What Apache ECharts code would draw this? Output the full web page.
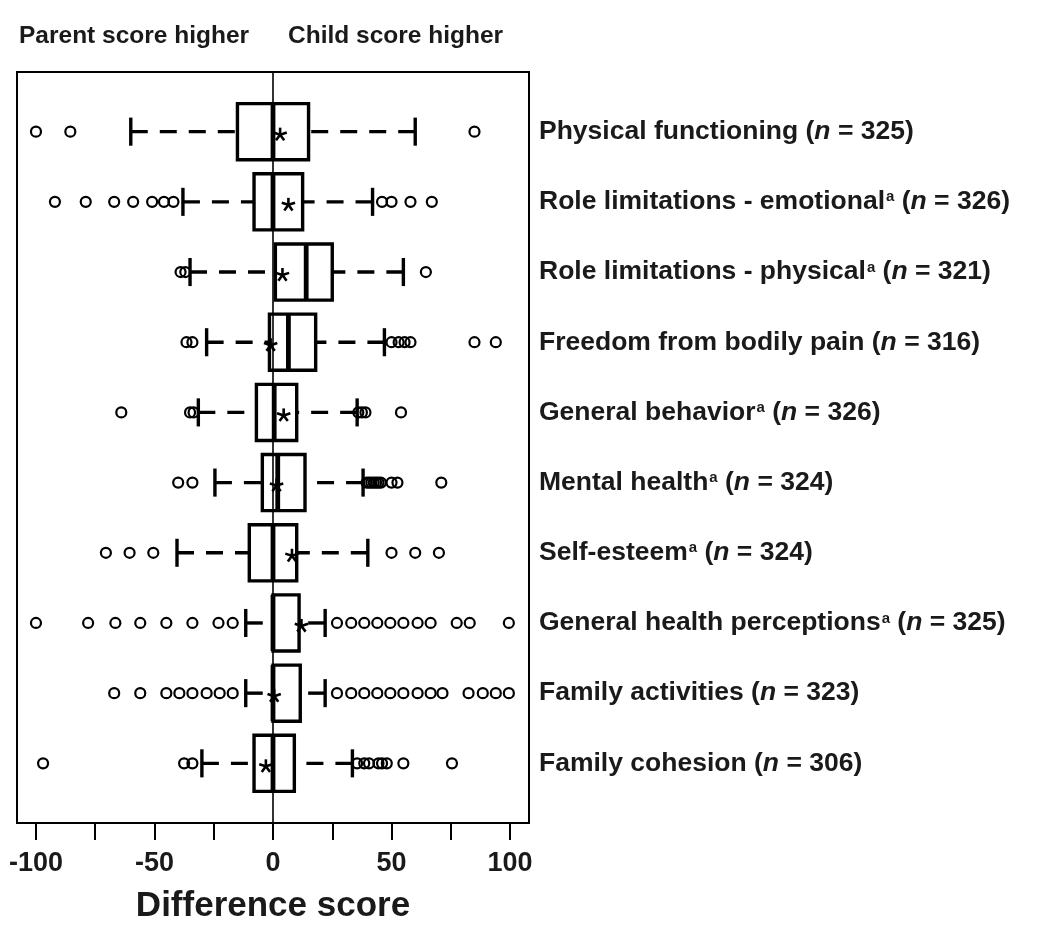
<!DOCTYPE html>
<html>
<head>
<meta charset="utf-8">
<script src="https://cdn.jsdelivr.net/npm/echarts@6/dist/echarts.min.js"></script>
<style>
html,body{margin:0;padding:0;background:#fff;}
#chart{width:1050px;height:929px;}
</style>
</head>
<body>
<div id="chart"></div>
<script>
// ---------- data ----------
const categories = ['Physical functioning','Role limitations - emotional','Role limitations - physical','Freedom from bodily pain','General behavior','Mental health','Self-esteem','General health perceptions','Family activities','Family cohesion'];
const sampleSizes = [325, 326, 321, 316, 326, 324, 324, 325, 323, 306];
const hasFootnoteA = [false, true, true, false, true, true, true, true, false, false];
const rowPositions = [1, 2, 3, 4, 5, 6, 7, 8, 9, 10];
const whiskerLow  = [-60, -38, -35, -28, -31.5, -24.5, -40.5, -11.5, -11.5, -30];
const quartile1   = [-15, -8, 1, -1.5, -7, -4.5, -10, 0, 0, -8];
const medians     = [0, 0, 14, 6.5, 0.5, 2, 0, 0, 0, 0];
const quartile3   = [15, 12.5, 25, 18, 10, 13.5, 10, 11, 11.5, 9];
const whiskerHigh = [60, 42, 55, 47, 35.5, 38, 40, 22, 22, 33.5];
const means       = [3, 6.5, 4, -1, 4.5, 1.5, 8, 12, 0.5, -3];
const outliers = [
  [-100, -85.5, 85],
  [-92, -79, -67, -59, -51, -46, -42, 46, 50, 58, 67],
  [-39, -37, 64.5],
  [-36.5, -34, 50, 53, 55.5, 58, 85, 94],
  [-64, -35, -33.5, 36, 37.5, 39, 54],
  [-40, -34, 39.5, 40.5, 41.5, 42.5, 43.5, 44.5, 45.5, 50, 52.5, 71],
  [-70.5, -60.5, -50.5, 50, 60, 70],
  [-100, -78, -66.5, -56, -45, -34, -23, -17, 27, 33, 38.5, 44, 49.5, 55, 61, 66.5, 77.5, 83, 99.5],
  [-67, -56, -45, -39.5, -34, -28, -22.5, -17, 27, 33, 38.5, 44, 49.5, 55, 61, 66.5, 71.5, 82.5, 88.5, 94, 99.5],
  [-97, -37.5, -34, 35.5, 38.5, 40.5, 44.5, 46, 48, 55, 75.5]
];
const xTickValues = [-100, -75, -50, -25, 0, 25, 50, 75, 100];
const xLabelValues = [-100, -50, 0, 50, 100];
const headerLeft = 'Parent score higher';
const headerRight = 'Child score higher';
const xAxisTitle = 'Difference score';

// ---------- build ----------
const boxData = rowPositions.map((r, i) => [r, whiskerLow[i], quartile1[i], medians[i], quartile3[i], whiskerHigh[i], means[i]]);
const outlierData = [];
outliers.forEach((arr, i) => arr.forEach(v => outlierData.push([v, rowPositions[i]])));

function labelFor(v) {
  const i = Math.round(v) - 1;
  if (i < 0 || i >= categories.length) return '';
  return '{b|' + categories[i] + '}' + (hasFootnoteA[i] ? '{sup|a}' : '') +
         '{b| (}{i|n}{b| = ' + sampleSizes[i] + ')}';
}

function renderItem(params, api) {
  const row = api.value(0);
  const pLo = api.coord([api.value(1), row]);
  const pQ1 = api.coord([api.value(2), row]);
  const pMd = api.coord([api.value(3), row]);
  const pQ3 = api.coord([api.value(4), row]);
  const pHi = api.coord([api.value(5), row]);
  const pMn = api.coord([api.value(6), row]);
  const boxH = Math.abs(api.size([0, 0.8])[1]);
  const stapleH = Math.abs(api.size([0, 0.4])[1]);
  const y = pMd[1];
  const black = '#000';
  const children = [
    {type: 'line', shape: {x1: pLo[0], y1: y, x2: pQ1[0], y2: y}, style: {stroke: black, lineWidth: 3.4, lineDash: [17, 12]}},
    {type: 'line', shape: {x1: pHi[0], y1: y, x2: pQ3[0], y2: y}, style: {stroke: black, lineWidth: 3.4, lineDash: [17, 12]}},
    {type: 'line', shape: {x1: pLo[0], y1: y - stapleH / 2, x2: pLo[0], y2: y + stapleH / 2}, style: {stroke: black, lineWidth: 3.4}},
    {type: 'line', shape: {x1: pHi[0], y1: y - stapleH / 2, x2: pHi[0], y2: y + stapleH / 2}, style: {stroke: black, lineWidth: 3.4}},
    {type: 'rect', shape: {x: pQ1[0], y: y - boxH / 2, width: pQ3[0] - pQ1[0], height: boxH}, style: {fill: 'none', stroke: black, lineWidth: 3.4}},
    {type: 'line', shape: {x1: pMd[0], y1: y - boxH / 2, x2: pMd[0], y2: y + boxH / 2}, style: {stroke: black, lineWidth: 4.8}}
  ];
  // mean marker: five-armed asterisk
  const cx = pMn[0], cy = pMn[1] + 3, arm = 7;
  [-90, -18, 54, 126, 198].forEach(a => {
    const rad = a * Math.PI / 180;
    children.push({type: 'line', shape: {x1: cx, y1: cy, x2: cx + arm * Math.cos(rad), y2: cy + arm * Math.sin(rad)},
      style: {stroke: black, lineWidth: 2.6}});
  });
  return {type: 'group', children: children};
}

const chart = echarts.init(document.getElementById('chart'), null, {renderer: 'canvas'});
const FONT = 'Liberation Sans, Arial, Helvetica, sans-serif';
chart.setOption({
  animation: false,
  backgroundColor: '#fff',
  textStyle: {fontFamily: FONT, color: '#000'},
  title: [
    {text: headerLeft, left: 14, top: 19, textStyle: {fontFamily: FONT, fontSize: 24.5, fontWeight: 'bold', color: '#1a1a1a'}},
    {text: headerRight, left: 283, top: 19, textStyle: {fontFamily: FONT, fontSize: 24.5, fontWeight: 'bold', color: '#1a1a1a'}}
  ],
  grid: {left: 17, right: 521, top: 72, bottom: 103, show: true, borderColor: '#000', borderWidth: 2, backgroundColor: 'transparent'},
  xAxis: {
    type: 'value', min: -108, max: 108,
    axisLine: {show: false},
    splitLine: {show: false},
    axisTick: {show: true, customValues: xTickValues, length: 17, inside: false, lineStyle: {color: '#000', width: 2}},
    axisLabel: {show: true, customValues: xLabelValues, margin: 27, fontSize: 27, fontWeight: 'bold', color: '#1a1a1a', fontFamily: FONT},
    name: xAxisTitle, nameLocation: 'middle', nameGap: 66,
    nameTextStyle: {fontSize: 35, fontWeight: 'bold', color: '#1a1a1a', fontFamily: FONT}
  },
  yAxis: {
    type: 'value', min: 0.15, max: 10.85, inverse: true, position: 'right',
    axisLine: {show: false}, axisTick: {show: false}, splitLine: {show: false},
    axisLabel: {
      show: true, customValues: rowPositions, margin: 10, align: 'left',
      formatter: labelFor,
      rich: {
        b: {fontSize: 26.5, fontWeight: 'bold', color: '#1a1a1a', fontFamily: FONT, lineHeight: 30},
        i: {fontSize: 26.5, fontWeight: 'bold', fontStyle: 'italic', color: '#1a1a1a', fontFamily: FONT, lineHeight: 30},
        sup: {fontSize: 15, fontWeight: 'bold', color: '#1a1a1a', fontFamily: FONT, lineHeight: 30, verticalAlign: 'top', padding: [3, 0, 0, 1]}
      }
    }
  },
  series: [
    {
      type: 'custom', renderItem: renderItem, data: boxData,
      encode: {x: [1, 2, 3, 4, 5, 6], y: 0}, silent: true, clip: false, z: 3
    },
    {
      type: 'scatter', data: outlierData, symbol: 'circle', symbolSize: 10, silent: true, z: 4,
      itemStyle: {color: 'rgba(0,0,0,0)', borderColor: '#000', borderWidth: 2.2, opacity: 1},
      markLine: {
        silent: true, symbol: ['none', 'none'], label: {show: false},
        lineStyle: {color: '#000', width: 1.6, type: 'solid'},
        data: [{xAxis: 0}]
      }
    }
  ]
});
</script>
</body>
</html>
